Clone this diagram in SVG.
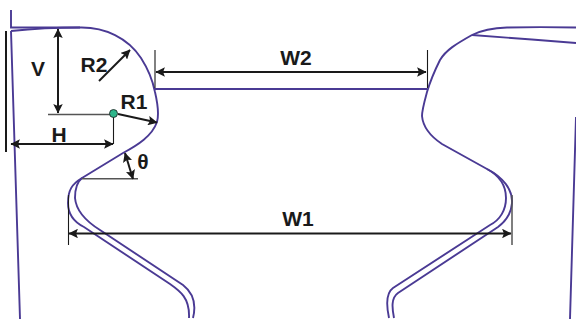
<svg xmlns="http://www.w3.org/2000/svg" width="576" height="320" viewBox="0 0 576 320">
<style>
.c{fill:none;stroke:#4a3a94;stroke-width:1.9}
.d{fill:none;stroke:#1a1a1a;stroke-width:2}
.g{fill:none;stroke:#555;stroke-width:1.5}
.k{fill:none;stroke:#1a1a1a;stroke-width:1.1}
.t{font-family:"Liberation Sans",Arial,sans-serif;font-weight:700;font-size:21px;fill:#1a1a1a;text-anchor:middle}
</style>
<defs>
<marker id="a" viewBox="0 0 8 8" refX="7.5" refY="4" markerWidth="9.5" markerHeight="9.5" markerUnits="userSpaceOnUse" orient="auto-start-reverse"><path d="M0 0L8 4L0 8L1.5 4Z" fill="#1a1a1a"/></marker>
</defs>
<g id="profile">
<path class="c" d="M11 10V27.5H80C105 27 128 38 141 58C150 72 153 82 155 92C158 105 159 115 157 122C152 136 138 145 123 153L82 178C72 184 68 190 68 203C68 214 74 222 84 227L170 284C180 291 190 298 189 318"/>
<path class="c" d="M82 178C77 182 75 190 75 198C76 210 84 220 100 230L183 285C192 292 197 302 193 318"/>
<path class="c" d="M11 31C30 29 60 27.5 80 27.5M11 31L20 319"/>
<path class="c" d="M155 89H427"/>
<path class="c" d="M576 27.5C550 27 530 27 507 27.5C492 28 482 30 472 35C456 44 446 50 440 60C433 74 430 82 427 92C424 103 422 110 422 116C423 127 430 136 442 144L487 169C503 177 513 190 512 203C511 214 505 222 498 227L398 293C391 298 392 308 394 318"/>
<path class="c" d="M487 169C500 176 506 186 506 198C506 210 500 220 490 225L393 288C386 293 386 304 389 318"/>
<path class="c" d="M472 35C510 38 540 40 576 43M576 117L570 319"/>
</g>
<g id="connectors">
<path class="d" d="M6 31V152"/>
<path class="d" marker-start="url(#a)" marker-end="url(#a)" d="M58 29V113"/>
<path class="d" marker-start="url(#a)" marker-end="url(#a)" d="M156 72H426"/>
<path class="k" d="M155 50V88M427.5 50V88"/>
<path class="d" marker-start="url(#a)" marker-end="url(#a)" d="M11 144H113"/>
<path class="g" d="M48 114.5H113M82 178.7H138"/>
<path class="k" d="M113.5 115V144"/>
<path class="d" marker-end="url(#a)" d="M118 114L157 122.5"/>
<path class="d" marker-end="url(#a)" d="M99 81L130 50"/>
<path class="d" marker-start="url(#a)" marker-end="url(#a)" d="M125 153L133 179"/>
<path class="d" marker-start="url(#a)" marker-end="url(#a)" d="M69 233.5H511"/>
<path class="k" d="M68.5 195V245"/>
<path class="g" d="M512 195V245"/>
</g>
<g id="center"><circle cx="113.5" cy="113.5" r="4" fill="#2db58a" stroke="#1a1a1a" stroke-width=".8"/></g>
<g id="labels">
<text class="t" x="38" y="76">V</text>
<text class="t" x="94" y="72">R2</text>
<text class="t" x="134" y="109">R1</text>
<text class="t" x="59" y="142">H</text>
<text class="t" x="143" y="169">θ</text>
<text class="t" x="296" y="65">W2</text>
<text class="t" x="298" y="226">W1</text>
</g>
</svg>
